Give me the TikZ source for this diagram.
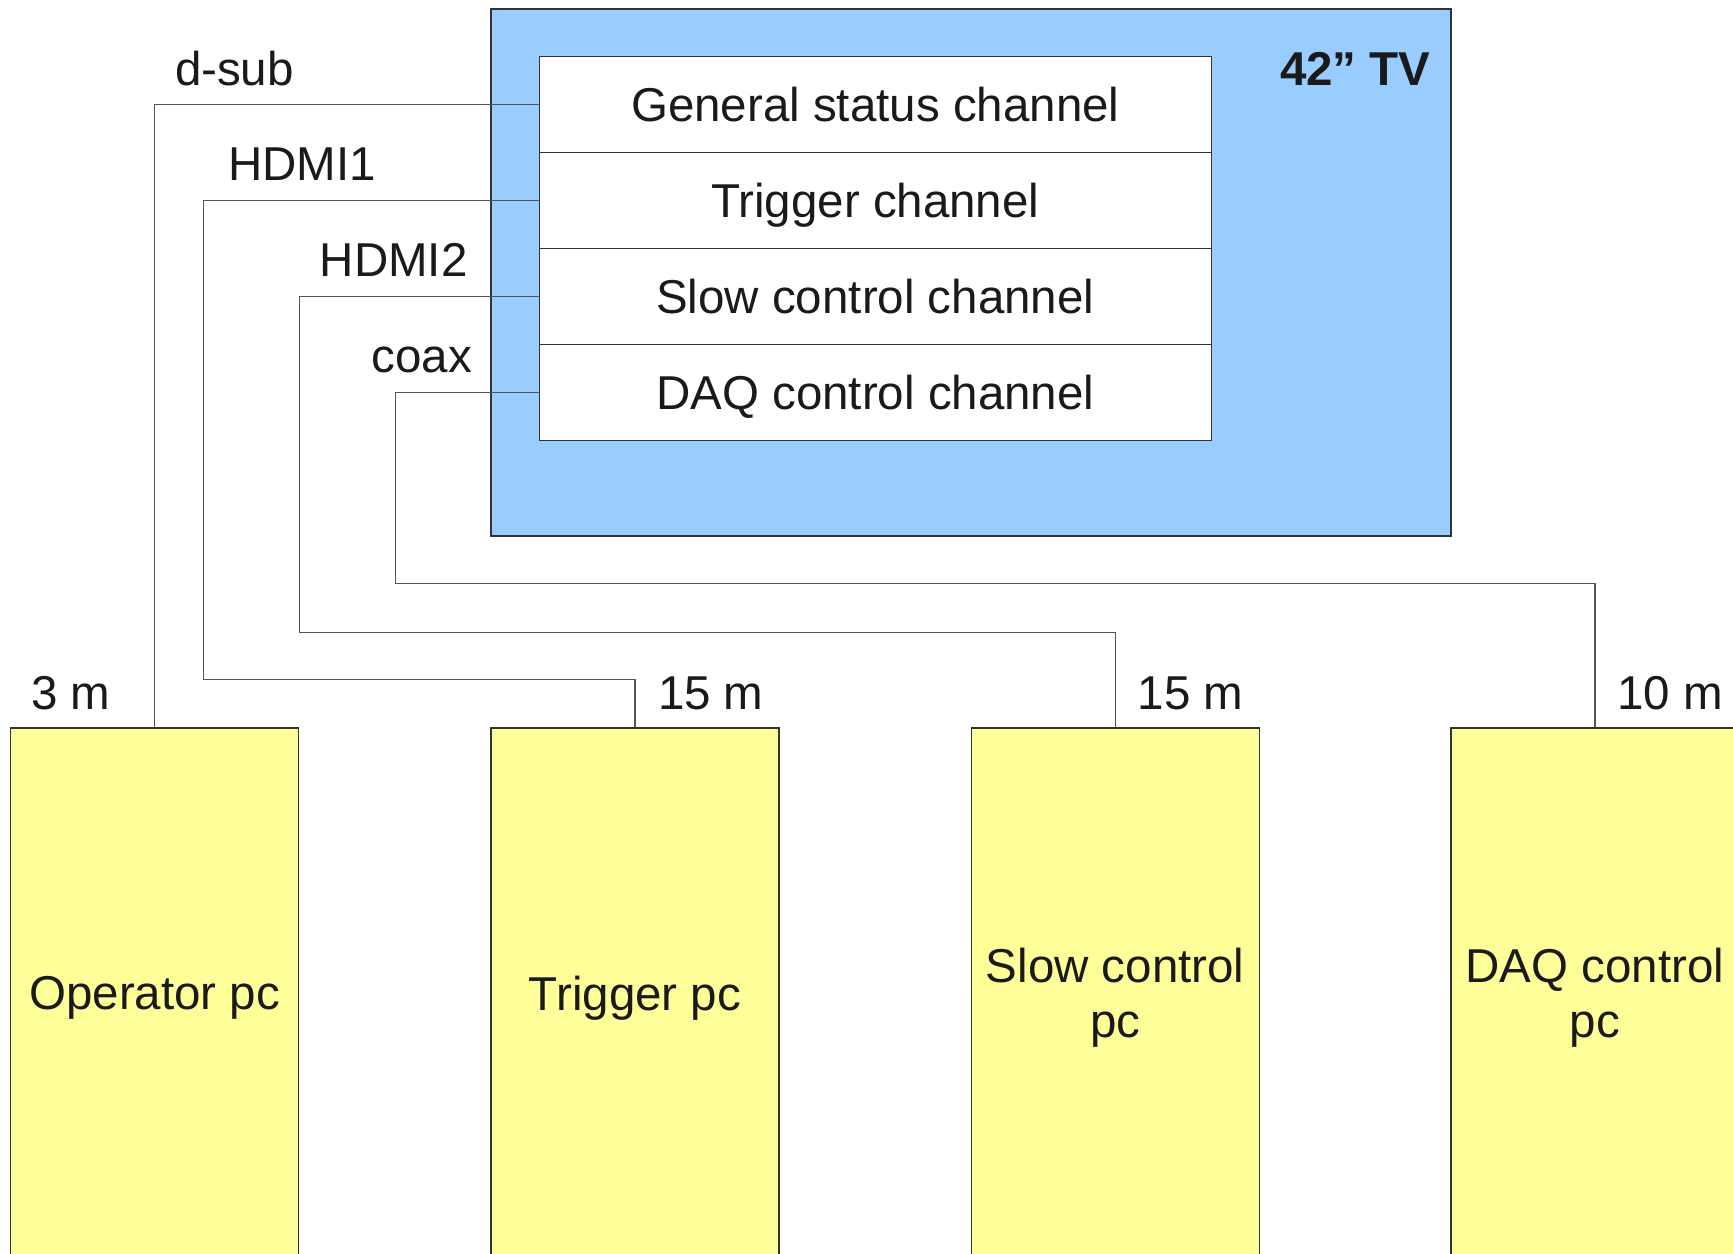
\documentclass[tikz,border=0pt]{standalone}
\usepackage{fontspec}
\setmainfont{Liberation Sans}
\definecolor{tvblue}{HTML}{99CCFF}
\definecolor{pcyellow}{HTML}{FFFF99}
\definecolor{edge}{HTML}{333333}
\definecolor{wire}{HTML}{555555}
\definecolor{ink}{HTML}{1A1A1A}
\tikzset{
  txt/.style={font=\fontsize{23.75}{27.5}\selectfont, text=ink, inner sep=0pt},
  tvbox/.style={draw=edge, fill=tvblue, line width=0.6pt, minimum width=480pt, minimum height=263.5pt, inner sep=0pt},
  chanbox/.style={txt, draw=edge, fill=white, line width=0.6pt, minimum width=336pt, minimum height=48pt, text depth=0pt},
  pcbox/.style={txt, draw=edge, fill=pcyellow, line width=0.6pt, minimum width=144pt, minimum height=265pt, align=center, text depth=0pt},
  wirestyle/.style={draw=wire, line width=0.55pt},
  lbl/.style={txt, anchor=base west}
}
\begin{document}
\begin{tikzpicture}[x=0.5pt, y=-0.5pt]
\useasboundingbox (0,0) rectangle (1733,1253);
\clip (0,0) rectangle (1733,1253);
\fill[white] (0,0) rectangle (1733,1253);
% TV
\node[tvbox] (tv) at (971,272.5) {};
\node[txt, anchor=base east, font=\fontsize{23.75}{27.5}\selectfont\bfseries] (tvlabel) at (1431,85) {42” TV};
% channels
\node[chanbox] (gs) at (875.3,104.4) {General status channel};
\node[chanbox] (tr) at (875.3,200.3) {Trigger channel};
\node[chanbox] (sc) at (875.3,296.2) {Slow control channel};
\node[chanbox] (dq) at (875.3,392.1) {DAQ control channel};
% PCs
\node[pcbox] (op) at (154.7,993) {Operator pc};
\node[pcbox] (tp) at (635,993) {Trigger pc};
\node[pcbox] (sp) at (1115.2,993) {Slow control\\pc};
\node[pcbox] (dp) at (1595,993) {DAQ control\\pc};
% bend points
\coordinate (h1) at (203.4,679.7);
\coordinate (h2) at (299.5,632.2);
\coordinate (cx) at (395.7,583.6);
% wires
\draw[wirestyle] (gs.west) -| (op.north);
\draw[wirestyle] (tr.west) -| (h1) -| (tp.north);
\draw[wirestyle] (sc.west) -| (h2) -| (sp.north);
\draw[wirestyle] (dq.west) -| (cx) -| (dp.north);
% labels
\node[lbl] (ldsub) at (174.6,85) {d-sub};
\node[lbl] (lh1) at (227.7,180) {HDMI1};
\node[lbl] (lh2) at (319.4,276.4) {HDMI2};
\node[lbl] (lcoax) at (371.4,372.6) {coax};
\node[lbl] (m1) at (30.9,709.7) {3 m};
\node[lbl] (m2) at (657.6,709.7) {15 m};
\node[lbl] (m3) at (1137.3,709.7) {15 m};
\node[lbl] (m4) at (1617,709.7) {10 m};
\end{tikzpicture}
\end{document}
